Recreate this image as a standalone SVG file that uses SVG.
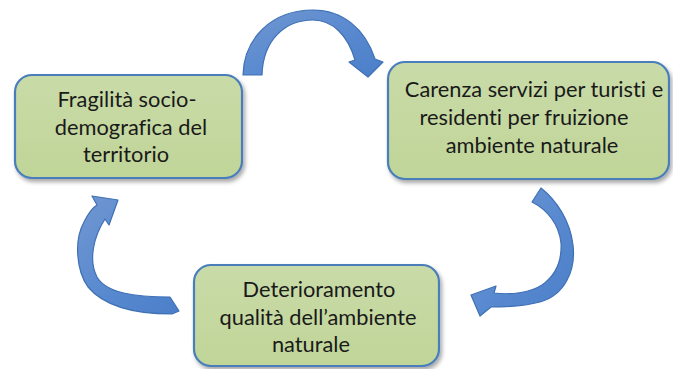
<svg xmlns="http://www.w3.org/2000/svg" width="673" height="369" viewBox="0 0 673 369">
<style>
.box{fill:url(#gfill);stroke:#4a7ebb;stroke-width:2.2;filter:url(#sh)}
.arr{fill:url(#afill);stroke:#3f70b5;stroke-width:1.2;stroke-linejoin:round}
.t{font-family:Lato,"Liberation Sans",sans-serif;font-size:21.8px;fill:#1a1a1a;text-anchor:middle;font-variant-ligatures:none;font-feature-settings:"liga" 0,"clig" 0}
</style>
<defs>
<linearGradient id="gfill" x1="0" y1="0" x2="0" y2="1">
<stop offset="0" stop-color="#c9dba8"/>
<stop offset="1" stop-color="#c0d598"/>
</linearGradient>
<linearGradient id="afill" x1="0" y1="0" x2="1" y2="1">
<stop offset="0" stop-color="#7197d0"/>
<stop offset="0.5" stop-color="#5a8ad0"/>
<stop offset="1" stop-color="#4a7fc8"/>
</linearGradient>
<filter id="sh" x="-10%" y="-10%" width="130%" height="130%">
<feGaussianBlur in="SourceAlpha" stdDeviation="2"/>
<feOffset dx="1.5" dy="2.5" result="b"/>
<feComponentTransfer><feFuncA type="linear" slope="0.35"/></feComponentTransfer>
<feMerge><feMergeNode/><feMergeNode in="SourceGraphic"/></feMerge>
</filter>
</defs>
<g id="connectors">
<path id="arrow-top" class="arr" d="M243,75 C244,38 272,10 313,10 C342,10 365,28 375,59 L383,62 L368,77 L349,62 L355,60 C348,36 333,20 313,20 C285,20 263,40 262,75 Z"/>
<path id="arrow-right" class="arr" d="M532,202 L541,188 C556,200 570,220 573,245 C576,270 565,295 540,302 C525,306 505,307 491,307 L480,316 L471,295 L496,286 L494,293 C510,295 530,293 542,285 C556,275 562,260 561,243 C559,225 548,210 532,202 Z"/>
<path id="arrow-left" class="arr" d="M118,200 L109,225 L105,219 C94,236 88,260 97,277 C106,293 135,297 170,297 L179,311 L172,314 C135,314 104,306 88,287 C76,270 74,240 84,222 C88,214 92,208 97,205 L92,196 Z"/>
</g>
<g id="node-fragilita">
<rect class="box" x="15" y="75" width="227" height="103" rx="17"/>
<text class="t" x="127" y="107">Fragilità socio-</text>
<text class="t" x="131" y="135">demografica del</text>
<text class="t" x="126" y="162">territorio</text>
</g>
<g id="node-carenza">
<rect class="box" x="388" y="62" width="281" height="117" rx="17"/>
<text class="t" x="534" y="97">Carenza servizi per turisti e</text>
<text class="t" x="524" y="125">residenti per fruizione</text>
<text class="t" x="532" y="153">ambiente naturale</text>
</g>
<g id="node-deterioramento">
<rect class="box" x="194" y="265" width="245" height="101" rx="17"/>
<text class="t" x="319" y="297">Deterioramento</text>
<text class="t" x="318" y="325">qualità dell’ambiente</text>
<text class="t" x="311" y="352">naturale</text>
</g>
</svg>
